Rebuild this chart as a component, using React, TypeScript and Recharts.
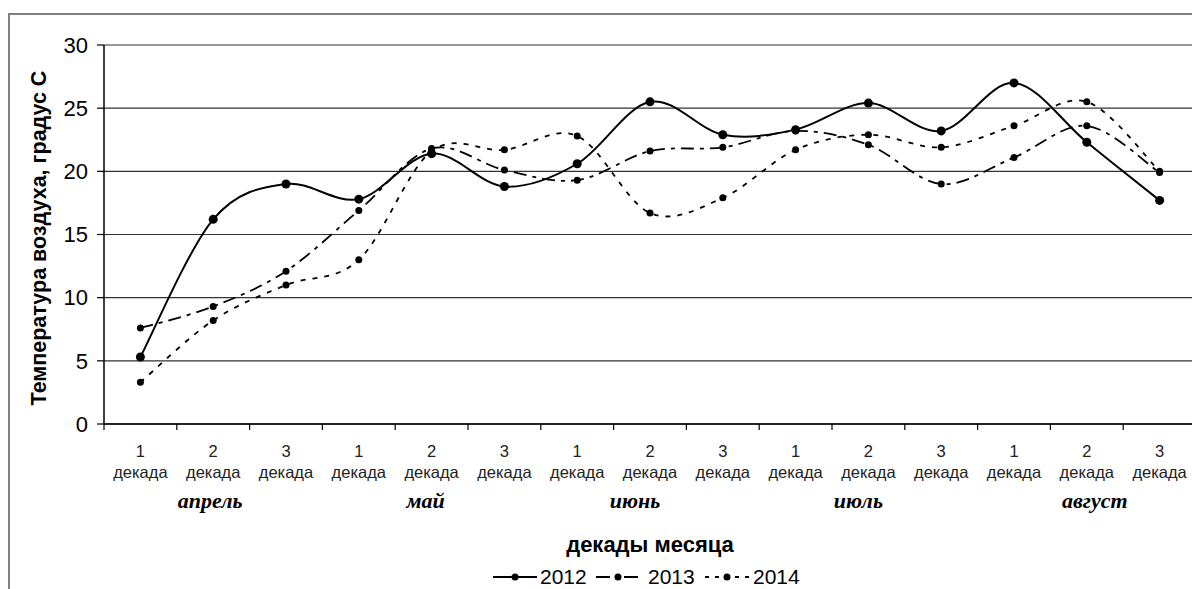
import React from 'react';
import { LineChart, Line, XAxis, YAxis, CartesianGrid } from 'recharts';

// ---- data ----
const decadeNumbers = ['1', '2', '3', '1', '2', '3', '1', '2', '3', '1', '2', '3', '1', '2', '3'];
const decadeWord = 'декада';
const months = ['апрель', 'май', 'июнь', 'июль', 'август'];
const t2012 = [5.3, 16.2, 19.0, 17.8, 21.4, 18.8, 20.6, 25.5, 22.9, 23.3, 25.4, 23.2, 27.0, 22.3, 17.7];
const t2013 = [7.6, 9.3, 12.1, 16.9, 21.8, 20.1, 19.3, 21.6, 21.9, 23.2, 22.1, 19.0, 21.1, 23.6, 19.9];
const t2014 = [3.3, 8.2, 11.0, 13.0, 21.6, 21.7, 22.8, 16.7, 17.9, 21.7, 22.9, 21.9, 23.6, 25.5, 20.0];
const yTicks = [0, 5, 10, 15, 20, 25, 30];
const seriesNames = ['2012', '2013', '2014'];
const yTitle = 'Температура воздуха, градус С';
const xTitle = 'декады месяца';

const boundaries = decadeNumbers.map((_, i) => i).concat([decadeNumbers.length]);
const data = decadeNumbers.map((d, i) => ({
  x: i + 0.5,
  a: t2012[i],
  b: t2013[i],
  c: t2014[i],
}));

// ---- layout ----
const CHART_W = 1210;
const CHART_H = 589;
const M_TOP = 45;
const M_RIGHT = 14;
const Y_W = 104;
const X_H = 165;
const PLOT_W = CHART_W - M_RIGHT - Y_W;
const STEP = PLOT_W / decadeNumbers.length;
const MONTH_SHIFT = [-3, -6, -15, -10, 8];
const SANS = '"Liberation Sans", Arial, sans-serif';
const SERIF = '"Liberation Serif", "Times New Roman", serif';

// Catmull-Rom style smoothing similar to Excel smoothed lines
function smoothCurve(context: any) {
  let pts: number[][] = [];
  return {
    areaStart() {},
    areaEnd() {},
    lineStart() {
      pts = [];
    },
    lineEnd() {
      const n = pts.length;
      if (!n) return;
      context.moveTo(pts[0][0], pts[0][1]);
      const k = 1 / 6;
      for (let i = 0; i < n - 1; i++) {
        const p0 = pts[Math.max(0, i - 1)];
        const p1 = pts[i];
        const p2 = pts[i + 1];
        const p3 = pts[Math.min(n - 1, i + 2)];
        context.bezierCurveTo(
          p1[0] + k * (p2[0] - p0[0]),
          p1[1] + k * (p2[1] - p0[1]),
          p2[0] - k * (p3[0] - p1[0]),
          p2[1] - k * (p3[1] - p1[1]),
          p2[0],
          p2[1]
        );
      }
    },
    point(x: number, y: number) {
      pts.push([+x, +y]);
    },
  };
}

const makeDot = (r: number) => (p: any) => (
  <circle key={`d${p.index}`} cx={p.cx} cy={p.cy} r={r} fill="#000" stroke="none" />
);

function XTick(props: any) {
  const { x, y, payload } = props;
  const i = payload.value as number;
  if (i >= decadeNumbers.length) return <g />;
  const cx = x + STEP / 2;
  const isMid = i % 3 === 1;
  const m = (i - 1) / 3;
  return (
    <g>
      <text x={cx} y={y + 27} textAnchor="middle" fontSize={16.5} fill="#222" fontFamily={SANS}>
        {decadeNumbers[i]}
      </text>
      <text x={cx} y={y + 48} textAnchor="middle" fontSize={16.5} fill="#222" fontFamily={SANS}>
        {decadeWord}
      </text>
      {isMid && (
        <text
          x={cx + MONTH_SHIFT[m]}
          y={y + 78}
          textAnchor="middle"
          fontSize={22}
          fontWeight="bold"
          fontStyle="italic"
          fill="#000"
          fontFamily={SERIF}
        >
          {months[m]}
        </text>
      )}
    </g>
  );
}

function LegendSymbol({ x, dash, r }: { x: number; dash?: string; r: number }) {
  return (
    <g>
      <line x1={x} y1={577} x2={x + 44} y2={577} stroke="#000" strokeWidth={2} strokeDasharray={dash} />
      <circle cx={x + 22} cy={577} r={r} fill="#000" />
    </g>
  );
}

export default function App() {
  return (
    <div
      style={{
        position: 'fixed',
        left: 0,
        top: 0,
        width: 1192,
        height: 589,
        overflow: 'hidden',
        background: '#fff',
      }}
    >
      <div
        style={{
          position: 'absolute',
          left: 8,
          top: 13,
          width: 3000,
          height: 3000,
          borderLeft: '2px solid #808080',
          borderTop: '2px solid #808080',
        }}
      />
      <div style={{ position: 'absolute', left: 0, top: 0 }}>
        <LineChart
          width={CHART_W}
          height={CHART_H}
          data={data}
          margin={{ top: M_TOP, right: M_RIGHT, bottom: 0, left: 0 }}
          style={{ fontFamily: SANS }}
        >
          <CartesianGrid vertical={false} stroke="#333" strokeWidth={1.2} />
          <XAxis
            dataKey="x"
            type="number"
            domain={[0, decadeNumbers.length]}
            ticks={boundaries}
            interval={0}
            height={X_H}
            tickSize={6}
            tickMargin={0}
            tick={<XTick />}
            axisLine={{ stroke: '#000', strokeWidth: 1.5 }}
            tickLine={{ stroke: '#000', strokeWidth: 1.2 }}
            allowDecimals={false}
          />
          <YAxis
            type="number"
            domain={[0, 30]}
            ticks={yTicks}
            interval={0}
            width={Y_W}
            tickSize={7}
            tickMargin={9}
            axisLine={{ stroke: '#000', strokeWidth: 1.5 }}
            tickLine={{ stroke: '#000', strokeWidth: 1.2 }}
            tick={{ fontSize: 22, fill: '#000', fontFamily: SANS }}
          />
          <Line
            dataKey="a"
            name={seriesNames[0]}
            type={smoothCurve as any}
            stroke="#000"
            strokeWidth={2}
            dot={makeDot(4.5)}
            activeDot={false}
            isAnimationActive={false}
          />
          <Line
            dataKey="b"
            name={seriesNames[1]}
            type={smoothCurve as any}
            stroke="#000"
            strokeWidth={1.8}
            strokeDasharray="13 6 4 6"
            dot={makeDot(3.5)}
            activeDot={false}
            isAnimationActive={false}
          />
          <Line
            dataKey="c"
            name={seriesNames[2]}
            type={smoothCurve as any}
            stroke="#000"
            strokeWidth={1.8}
            strokeDasharray="5 7"
            dot={makeDot(3.5)}
            activeDot={false}
            isAnimationActive={false}
          />
        </LineChart>
      </div>
      <svg
        width={1192}
        height={589}
        style={{ position: 'absolute', left: 0, top: 0, pointerEvents: 'none' }}
      >
        <text
          transform="translate(46,238) rotate(-90)"
          textAnchor="middle"
          fontSize={21.5}
          fontWeight="bold"
          fontFamily={SANS}
          fill="#000"
        >
          {yTitle}
        </text>
        <text x={650} y={552} textAnchor="middle" fontSize={22} fontWeight="bold" fontFamily={SANS} fill="#000">
          {xTitle}
        </text>
        <LegendSymbol x={493} r={3.5} />
        <text x={540} y={584} fontSize={21} fontFamily={SANS} fill="#000">
          {seriesNames[0]}
        </text>
        <LegendSymbol x={596} r={3.5} dash="14 5 4 5" />
        <text x={648} y={584} fontSize={21} fontFamily={SANS} fill="#000">
          {seriesNames[1]}
        </text>
        <LegendSymbol x={705} r={3.5} dash="4 6" />
        <text x={753} y={584} fontSize={21} fontFamily={SANS} fill="#000">
          {seriesNames[2]}
        </text>
      </svg>
    </div>
  );
}
